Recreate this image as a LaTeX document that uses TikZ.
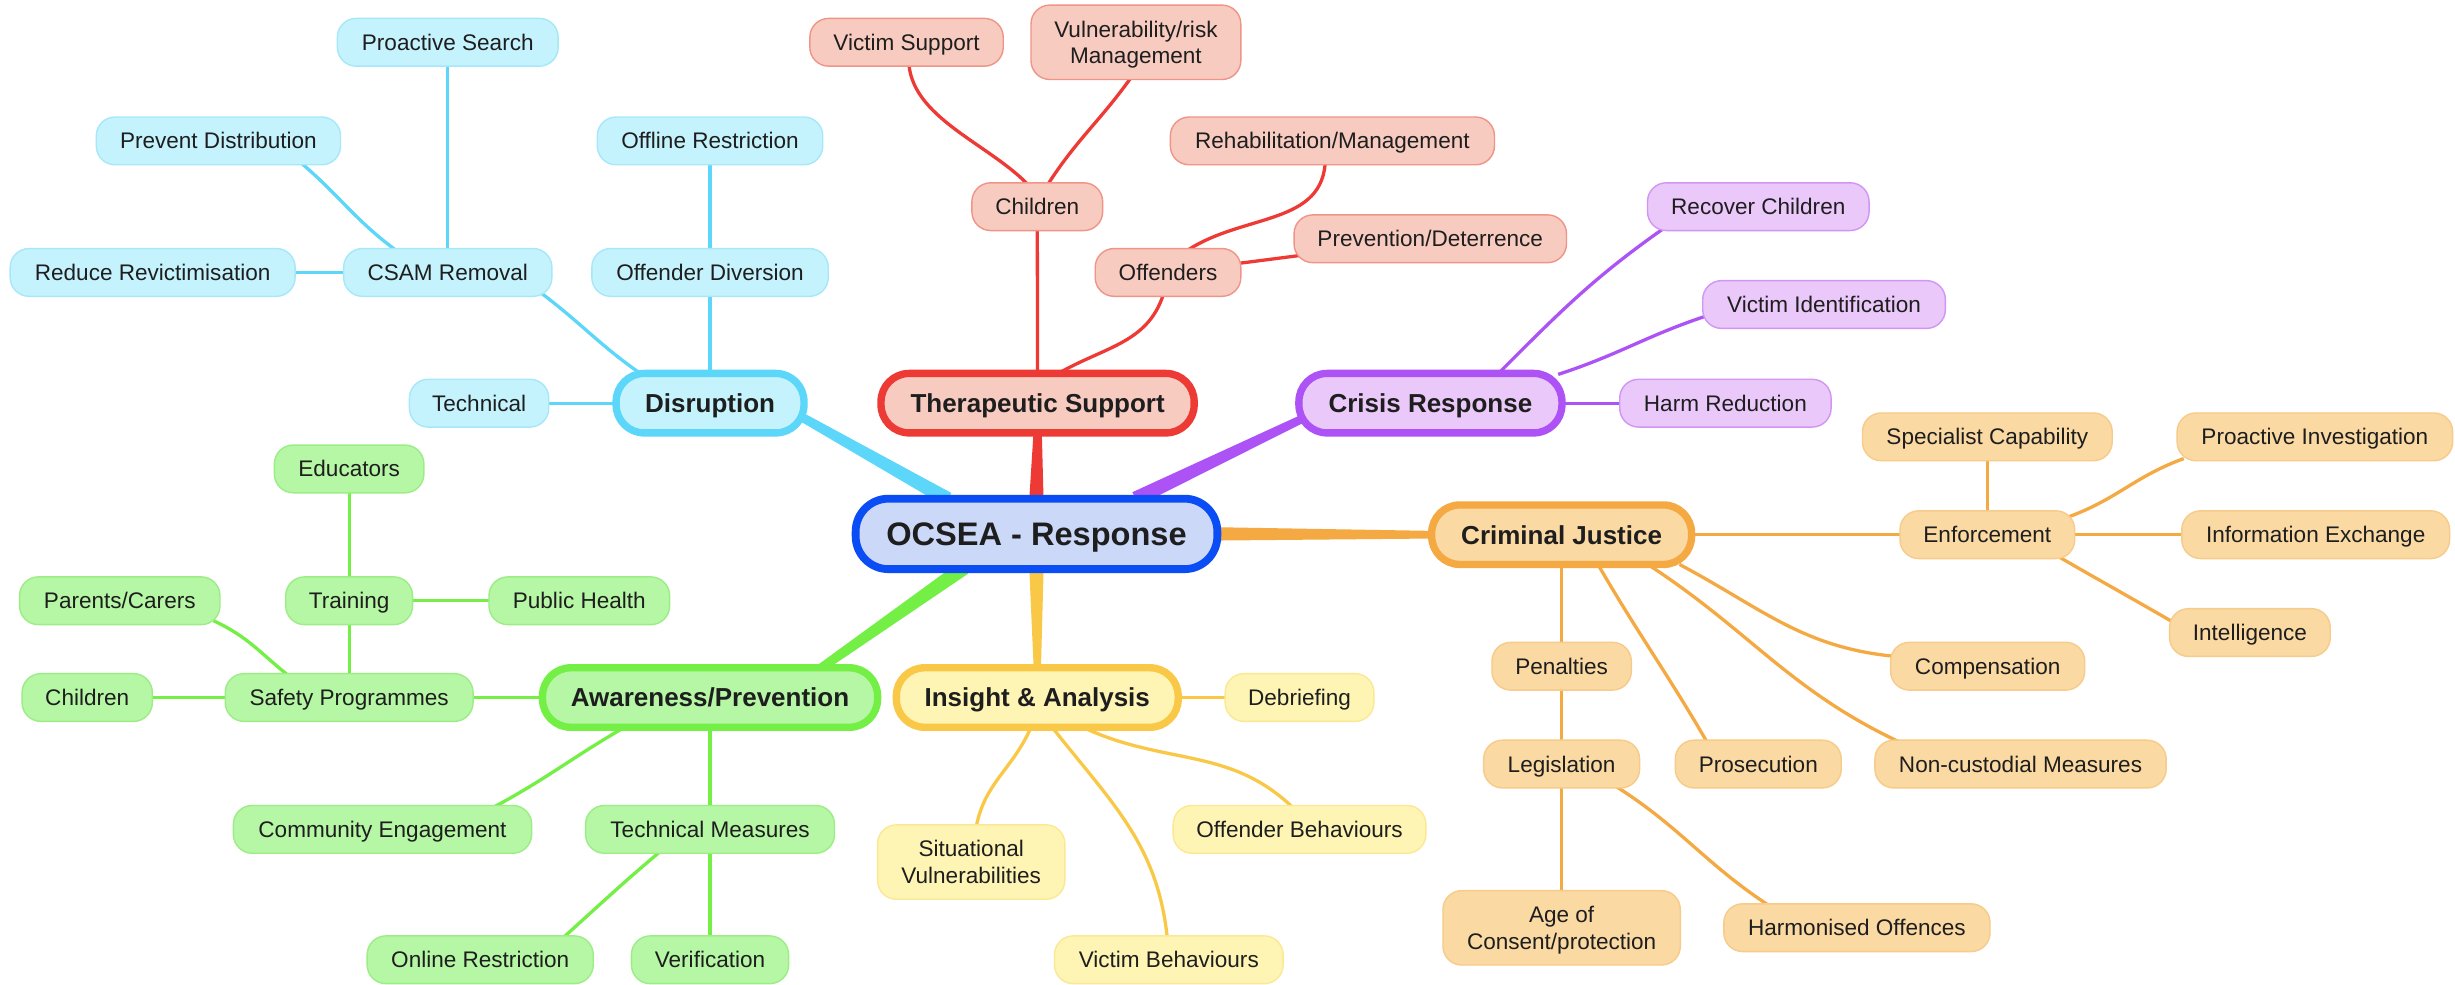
\documentclass[tikz,border=0pt]{standalone}
\usepackage{fontspec}
\setmainfont{Liberation Sans}
\usetikzlibrary{calc}
\pgfdeclarelayer{back}
\pgfdeclarelayer{bg}
\pgfsetlayers{back,bg,main}
\definecolor{txt}{HTML}{1E1E1E}
\definecolor{cyE}{HTML}{5CD6F9}\definecolor{cyF}{HTML}{C5F3FD}\definecolor{cyB}{HTML}{A6E8F9}
\definecolor{rdE}{HTML}{EE3A35}\definecolor{rdF}{HTML}{F8CBC0}\definecolor{rdB}{HTML}{F09488}
\definecolor{puE}{HTML}{AD52F5}\definecolor{puF}{HTML}{EAC8FA}\definecolor{puB}{HTML}{D196F5}
\definecolor{orE}{HTML}{F4A942}\definecolor{orF}{HTML}{FAD9A3}\definecolor{orB}{HTML}{F7CB8A}
\definecolor{yeE}{HTML}{F9C847}\definecolor{yeF}{HTML}{FEF5B5}\definecolor{yeB}{HTML}{FBE891}
\definecolor{grE}{HTML}{73EF45}\definecolor{grF}{HTML}{B5F7A4}\definecolor{grB}{HTML}{9DED87}
\definecolor{blE}{HTML}{0A4DF4}\definecolor{blF}{HTML}{CCD8F8}
\newcommand\rootband[5]{%
  \path ($(#2)!-6pt!(#3)$) coordinate (bandA) ($(#3)!-6pt!(#2)$) coordinate (bandB);
  \fill[#1] ($(bandA)!#4!90:(bandB)$) -- ($(bandB)!#5!-90:(bandA)$) -- ($(bandB)!#5!90:(bandA)$) -- ($(bandA)!#4!-90:(bandB)$) -- cycle;}
\tikzset{
  subbox/.style={rectangle, rounded corners=12pt, line width=0.9pt, text=txt,
    font=\fontsize{14.4}{17}\selectfont, inner xsep=2pt, inner ysep=0pt,
    text height=11.5pt, text depth=1.2pt,
    minimum height=30.5pt, align=center},
  twoline/.style={minimum height=47.5pt, text height=28.5pt, text depth=1.2pt},
  ring/.style={append after command={\pgfextra{\draw[draw=#1, line width=1.1pt, rounded corners=15pt]
      ($(\tikzlastnode.south west)+(5.3,-5.3)$) rectangle ($(\tikzlastnode.north east)+(-5.3,5.3)$);}}},
  mainbox/.style={rectangle, rounded corners=18pt, line width=4.7pt, text=txt,
    font=\fontsize{16.6}{20}\selectfont\bfseries, inner xsep=2pt, inner ysep=0pt,
    text height=13.3pt, text depth=1.4pt, minimum height=38pt},
  rootbox/.style={rectangle, rounded corners=21pt, line width=5pt, text=txt,
    font=\fontsize{20.8}{24}\selectfont\bfseries, inner xsep=2pt, inner ysep=0pt,
    text height=16.6pt, text depth=1.75pt,
    minimum height=45pt, fill=blF, draw=blE, ring=blE!45!blF},
  cys/.style={subbox, fill=cyF, draw=cyB}, cym/.style={mainbox, fill=cyF, draw=cyE, ring=cyE!50!cyF},
  rds/.style={subbox, fill=rdF, draw=rdB}, rdm/.style={mainbox, fill=rdF, draw=rdE, ring=rdE!40!rdF},
  pus/.style={subbox, fill=puF, draw=puB}, pum/.style={mainbox, fill=puF, draw=puE, ring=puE!40!puF},
  ors/.style={subbox, fill=orF, draw=orB}, orm/.style={mainbox, fill=orF, draw=orE, ring=orE!45!orF},
  yes/.style={subbox, fill=yeF, draw=yeB}, yem/.style={mainbox, fill=yeF, draw=yeE, ring=yeE!45!yeF},
  grs/.style={subbox, fill=grF, draw=grB}, grm/.style={mainbox, fill=grF, draw=grE, ring=grE!45!grF},
  conn/.style={draw=#1, line width=2.1pt, shorten <=-5pt, shorten >=-5pt},
}
\begin{document}
\begin{tikzpicture}[x=1pt, y=-1pt]
\begin{pgfonlayer}{back}
\fill[white] (0,0) rectangle (1568,629);
\end{pgfonlayer}
\useasboundingbox (0,0) rectangle (1568,629);
% root
\node[rootbox, minimum width=231pt] (root) at (662,341) {OCSEA - Response};
% main branches
\node[cym, minimum width=120pt] (dis) at (453.5,257.5) {Disruption};
\node[rdm, minimum width=200pt] (ther) at (662.7,257.5) {Therapeutic Support};
\node[pum, minimum width=168pt] (cri) at (913.6,257.5) {Crisis Response};
\node[orm, minimum width=166pt] (cj) at (997.4,341.5) {Criminal Justice};
\node[yem, minimum width=180pt] (ins) at (662.5,445.5) {Insight \& Analysis};
\node[grm, minimum width=214pt] (aw) at (453.5,445.5) {Awareness/Prevention};
% disruption
\node[cys, minimum width=141pt] (psearch) at (286,27) {Proactive Search};
\node[cys, minimum width=156pt] (prevent) at (139.5,90) {Prevent Distribution};
\node[cys, minimum width=144pt] (offl) at (453.5,90) {Offline Restriction};
\node[cys, minimum width=182pt] (reduce) at (97.5,174) {Reduce Revictimisation};
\node[cys, minimum width=133pt] (csam) at (286,174) {CSAM Removal};
\node[cys, minimum width=151pt] (odiv) at (453.5,174) {Offender Diversion};
\node[cys, minimum width=89pt] (tech) at (306,257.5) {Technical};
% therapeutic
\node[rds, minimum width=123.5pt] (vsup) at (579,27) {Victim Support};
\node[rds, twoline, minimum width=134pt] (vuln) at (725.5,27) {Vulnerability/risk\\Management};
\node[rds, minimum width=83.5pt] (tchild) at (662.5,132) {Children};
\node[rds, minimum width=207pt] (rehab) at (851,90) {Rehabilitation/Management};
\node[rds, minimum width=93pt] (offend) at (746,174) {Offenders};
\node[rds, minimum width=174pt] (prevdet) at (913.5,152.5) {Prevention/Deterrence};
% crisis
\node[pus, minimum width=141.5pt] (recov) at (1123,132) {Recover Children};
\node[pus, minimum width=155pt] (victid) at (1165,194.5) {Victim Identification};
\node[pus, minimum width=135pt] (harm) at (1102,257.5) {Harm Reduction};
% criminal justice
\node[ors, minimum width=159.5pt] (spec) at (1269.3,279) {Specialist Capability};
\node[ors, minimum width=176pt] (proinv) at (1478.5,279) {Proactive Investigation};
\node[ors, minimum width=111.6pt] (enf) at (1269.3,341.5) {Enforcement};
\node[ors, minimum width=171pt] (info) at (1479,341.5) {Information Exchange};
\node[ors, minimum width=102.6pt] (intel) at (1437,404) {Intelligence};
\node[ors, minimum width=89pt] (pen) at (997.4,425.5) {Penalties};
\node[ors, minimum width=99.6pt] (legis) at (997.4,488) {Legislation};
\node[ors, minimum width=106pt] (prosec) at (1123,488) {Prosecution};
\node[ors, minimum width=186pt] (noncust) at (1290.5,488) {Non-custodial Measures};
\node[ors, minimum width=124pt] (comp) at (1269.5,425.5) {Compensation};
\node[ors, twoline, minimum width=151.6pt] (age) at (997.4,592.6) {Age of\\Consent/protection};
\node[ors, minimum width=170pt] (harmon) at (1186,592.5) {Harmonised Offences};
% insight
\node[yes, minimum width=95pt] (debr) at (830,445.5) {Debriefing};
\node[yes, minimum width=161.4pt] (offbeh) at (830,529.7) {Offender Behaviours};
\node[yes, twoline, minimum width=119.6pt] (situ) at (620.3,550.6) {Situational\\Vulnerabilities};
\node[yes, minimum width=146pt] (vicbeh) at (746.5,613) {Victim Behaviours};
% awareness
\node[grs, minimum width=95.5pt] (educ) at (223,299.5) {Educators};
\node[grs, minimum width=128pt] (parents) at (76.5,383.7) {Parents/Carers};
\node[grs, minimum width=81pt] (train) at (223,383.7) {Training};
\node[grs, minimum width=115.4pt] (pubh) at (370,383.7) {Public Health};
\node[grs, minimum width=83.2pt] (achild) at (55.7,445.5) {Children};
\node[grs, minimum width=158.3pt] (safety) at (223,445.5) {Safety Programmes};
\node[grs, minimum width=190.5pt] (comm) at (244.3,529.7) {Community Engagement};
\node[grs, minimum width=159pt] (techm) at (453.5,529.7) {Technical Measures};
\node[grs, minimum width=144.4pt] (online) at (306.7,613) {Online Restriction};
\node[grs, minimum width=100.4pt] (verif) at (453.5,613) {Verification};

\begin{pgfonlayer}{bg}
% root bands
\rootband{rdE}{root.90}{ther.-90}{4.7pt}{2.5pt}
\rootband{yeE}{root.-90}{ins.90}{4.7pt}{2.2pt}
\rootband{orE}{root.0}{cj.180}{4.3pt}{2.4pt}
\rootband{puE}{root.20}{cri.188}{4.7pt}{2.6pt}
\rootband{cyE}{root.158}{dis.-10}{4.7pt}{2.8pt}
\rootband{grE}{root.-154}{aw.16}{4.7pt}{2.8pt}
% disruption
\draw[conn=cyE] (dis) -- (tech);
\draw[conn=cyE] (dis) -- (odiv);
\draw[conn=cyE] (odiv) -- (offl);
\draw[conn=cyE] (dis.156) to[out=145,in=-37] (csam.-14);
\draw[conn=cyE] (csam) -- (reduce);
\draw[conn=cyE] (csam) -- (psearch);
\draw[conn=cyE] (csam.156) to[out=144,in=-40] (prevent.-16);
% therapeutic
\draw[conn=rdE] (ther) -- (tchild);
\draw[conn=rdE] (tchild.115) to[out=132,in=-90,looseness=0.8] (vsup.-85);
\draw[conn=rdE] (tchild.64) to[out=58,in=-125] (vuln.-100);
\draw[conn=rdE] (ther.51) to[out=30,in=-105] (offend.-102);
\draw[conn=rdE] (offend.47) to[out=35,in=-90] (rehab.-106);
\draw[conn=rdE] (offend) -- (prevdet);
% crisis
\draw[conn=puE] (cri.25) to[out=45,in=-145] (recov.194);
\draw[conn=puE] (cri.13) to[out=18,in=198] (victid.186);
\draw[conn=puE] (cri) -- (harm);
% criminal justice
\draw[conn=orE] (cj) -- (enf);
\draw[conn=orE] (enf) -- (spec);
\draw[conn=orE] (enf) -- (info);
\draw[conn=orE] (enf.13) to[out=20,in=200] (proinv.190);
\draw[conn=orE] (enf.-18) to[out=-30,in=150] (intel.171);
\draw[conn=orE] (cj.-15) to[out=-28,in=175] (comp.174);
\draw[conn=orE] (cj.-20) to[out=-33,in=155] (noncust.169);
\draw[conn=orE] (cj.-41) to[out=-60,in=120] (prosec.155);
\draw[conn=orE] (cj) -- (pen);
\draw[conn=orE] (pen) -- (legis);
\draw[conn=orE] (legis) -- (age);
\draw[conn=orE] (legis.-23) to[out=-32,in=147] (harmon.165);
% insight
\draw[conn=yeE] (ins) -- (debr);
\draw[conn=yeE] (ins.-32) to[out=-25,in=135] (offbeh.111);
\draw[conn=yeE] (ins.-103) to[out=-112,in=82] (situ.82);
\draw[conn=yeE] (ins.-62) to[out=-52,in=95] (vicbeh.94);
% awareness
\draw[conn=grE] (aw) -- (safety);
\draw[conn=grE] (safety) -- (achild);
\draw[conn=grE] (safety) -- (train);
\draw[conn=grE] (train) -- (educ);
\draw[conn=grE] (train) -- (pubh);
\draw[conn=grE] (safety.159) to[out=142,in=-25] (parents.-13);
\draw[conn=grE] (aw.-160) to[out=-150,in=28] (comm.12);
\draw[conn=grE] (aw) -- (techm);
\draw[conn=grE] (techm) -- (verif);
\draw[conn=grE] (techm.-155) to[out=-140,in=42] (online.16);
\end{pgfonlayer}
\end{tikzpicture}
\end{document}
